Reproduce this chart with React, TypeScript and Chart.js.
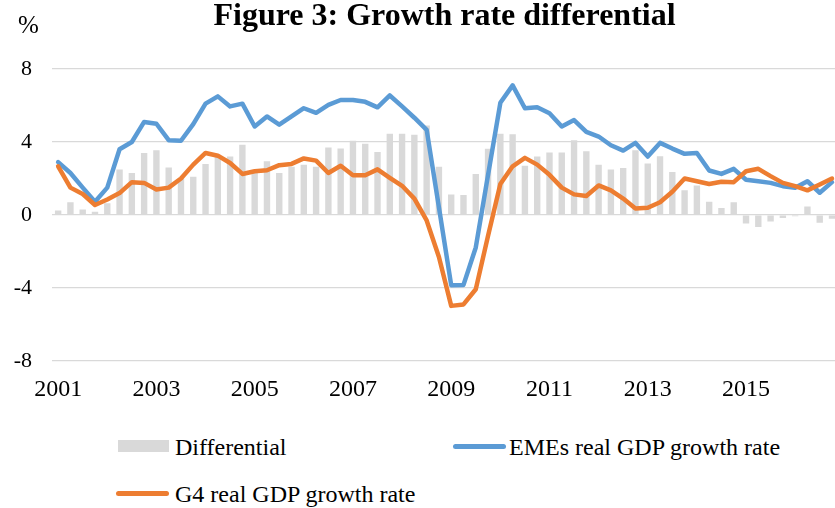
import React, { useEffect, useRef } from "react";
import { Chart, registerables } from "chart.js";

Chart.register(...registerables);

// Year tick labels (shown every 8 quarters)
const tickYears = ["2001", "2003", "2005", "2007", "2009", "2011", "2013", "2015"];
const quarterYears = [
  "2001", "2002", "2003", "2004", "2005", "2006", "2007", "2008",
  "2009", "2010", "2011", "2012", "2013", "2014", "2015", "2016",
];
const quarters = ["Q1", "Q2", "Q3", "Q4"];

// Differential (EMEs minus G4), %
const differential = [
  0.25, 0.7, 0.3, 0.18, 0.65, 2.5, 2.3, 3.4,
  3.55, 2.6, 2.0, 2.1, 2.8, 3.2, 3.2, 3.85,
  2.45, 2.95, 2.3, 2.65, 2.75, 2.65, 3.7, 3.65,
  4.07, 3.9, 3.45, 4.45, 4.45, 4.4, 4.9, 2.65,
  1.12, 1.1, 2.25, 3.63, 4.45, 4.42, 2.7, 3.2,
  3.42, 3.42, 4.1, 3.5, 2.75, 2.5, 2.58, 3.55,
  2.82, 3.22, 2.35, 1.35, 1.62, 0.72, 0.38, 0.7,
  -0.46, -0.66, -0.35, -0.16, -0.07, 0.47, -0.43, -0.2,
];

// EMEs real GDP growth rate, %
const emes = [
  2.9, 2.3, 1.5, 0.73, 1.5, 3.6, 4.0, 5.1,
  5.0, 4.1, 4.07, 4.98, 6.1, 6.5, 5.95, 6.1,
  4.85, 5.4, 4.95, 5.4, 5.85, 5.6, 6.03, 6.3,
  6.3, 6.2, 5.9, 6.55, 5.95, 5.33, 4.67, 0.42,
  -3.85, -3.83, -1.78, 2.2, 6.15, 7.1, 5.85, 5.9,
  5.58, 4.85, 5.2, 4.55, 4.3, 3.82, 3.53, 3.95,
  3.2, 3.95, 3.64, 3.35, 3.4, 2.44, 2.25, 2.53,
  1.93, 1.85, 1.76, 1.58, 1.49, 1.85, 1.22, 1.8,
];

// G4 real GDP growth rate, %
const g4 = [
  2.67, 1.5, 1.15, 0.55, 0.85, 1.2, 1.8, 1.76,
  1.4, 1.5, 2.0, 2.76, 3.4, 3.25, 2.85, 2.25,
  2.4, 2.45, 2.73, 2.8, 3.1, 2.98, 2.3, 2.7,
  2.18, 2.18, 2.5, 2.04, 1.6, 0.9, -0.3, -2.3,
  -4.98, -4.9, -4.07, -1.14, 1.7, 2.67, 3.13, 2.76,
  2.2, 1.5, 1.13, 1.04, 1.62, 1.35, 0.9, 0.36,
  0.4, 0.7, 1.27, 2.0, 1.85, 1.7, 1.82, 1.8,
  2.4, 2.53, 2.13, 1.76, 1.58, 1.35, 1.67, 2.0,
];

const yTicks = [-8, -4, 0, 4, 8];

const categories: string[] = [];
quarterYears.forEach((y) => quarters.forEach((q) => categories.push(y + " " + q)));

const GRAY = "#d9d9d9";
const BLUE = "#5b9bd5";
const ORANGE = "#ed7d31";
const SERIF = "'Liberation Serif', 'Times New Roman', serif";

export default function App() {
  const ref = useRef<HTMLCanvasElement | null>(null);

  useEffect(() => {
    if (!ref.current) return;
    const chart = new Chart(ref.current, {
      type: "bar",
      data: {
        labels: categories,
        datasets: [
          {
            type: "bar",
            label: "Differential",
            data: differential,
            backgroundColor: GRAY,
            borderWidth: 0,
            barPercentage: 0.52,
            categoryPercentage: 1,
            order: 3,
          },
          {
            type: "line",
            label: "EMEs real GDP growth rate",
            data: emes,
            borderColor: BLUE,
            backgroundColor: BLUE,
            borderWidth: 4.5,
            pointRadius: 0,
            tension: 0,
            borderJoinStyle: "round",
            borderCapStyle: "round",
            order: 2,
          },
          {
            type: "line",
            label: "G4 real GDP growth rate",
            data: g4,
            borderColor: ORANGE,
            backgroundColor: ORANGE,
            borderWidth: 4.5,
            pointRadius: 0,
            tension: 0,
            borderJoinStyle: "round",
            borderCapStyle: "round",
            order: 1,
          },
        ],
      },
      options: {
        responsive: false,
        animation: false,
        devicePixelRatio: 1,
        layout: { padding: { top: 69, left: 0, right: 0, bottom: 0 } },
        plugins: {
          legend: { display: false },
          title: { display: false },
          tooltip: { enabled: false },
        },
        scales: {
          x: {
            offset: true,
            grid: { display: false, drawTicks: false },
            border: { display: false },
            ticks: {
              autoSkip: false,
              maxRotation: 0,
              minRotation: 0,
              padding: 14,
              color: "#000",
              font: { family: SERIF, size: 24 },
              callback: (_v: any, i: number) => {
                const lab = categories[i];
                const yr = lab.slice(0, 4);
                return lab.endsWith("Q1") && tickYears.includes(yr) ? yr : "";
              },
            },
            afterFit: (s: any) => {
              s.height = 49;
            },
          },
          y: {
            min: -8,
            max: 8,
            afterBuildTicks: (s: any) => {
              s.ticks = yTicks.map((v) => ({ value: v }));
            },
            grid: { color: GRAY, lineWidth: 1.2, drawTicks: false },
            border: { display: false },
            ticks: {
              padding: 20,
              color: "#000",
              font: { family: SERIF, size: 22 },
              callback: (v: any) => String(v),
            },
            afterFit: (s: any) => {
              s.width = 52;
            },
          },
        },
      },
    });
    return () => chart.destroy();
  }, []);

  const txt: React.CSSProperties = {
    position: "absolute",
    fontFamily: SERIF,
    fontSize: 24,
    lineHeight: "24px",
    color: "#000",
    whiteSpace: "nowrap",
  };

  return (
    <div
      style={{
        position: "absolute",
        left: 0,
        top: 0,
        width: 835,
        height: 508,
        overflow: "hidden",
        background: "#fff",
      }}
    >
      <canvas
        ref={ref}
        width={846}
        height={410}
        style={{ position: "absolute", left: 0, top: 0, width: 846, height: 410 }}
      />
      <div
        style={{
          position: "absolute",
          left: 444.5,
          top: -2,
          transform: "translateX(-50%)",
          fontFamily: SERIF,
          fontWeight: "bold",
          fontSize: 32,
          lineHeight: "32px",
          whiteSpace: "nowrap",
          color: "#000",
        }}
      >
        Figure 3: Growth rate differential
      </div>
      <div
        style={{
          position: "absolute",
          left: 18,
          top: 12,
          fontFamily: SERIF,
          fontSize: 25,
          lineHeight: "25px",
          color: "#000",
        }}
      >
        %
      </div>
      <div style={{ position: "absolute", left: 118, top: 440, width: 51, height: 12, background: GRAY }} />
      <div style={{ ...txt, left: 175, top: 435 }}>Differential</div>
      <div
        style={{ position: "absolute", left: 453, top: 444, width: 53, height: 5, borderRadius: 3, background: BLUE }}
      />
      <div style={{ ...txt, left: 509, top: 435 }}>EMEs real GDP growth rate</div>
      <div
        style={{ position: "absolute", left: 116, top: 491, width: 53, height: 5, borderRadius: 3, background: ORANGE }}
      />
      <div style={{ ...txt, left: 175, top: 482 }}>G4 real GDP growth rate</div>
    </div>
  );
}
